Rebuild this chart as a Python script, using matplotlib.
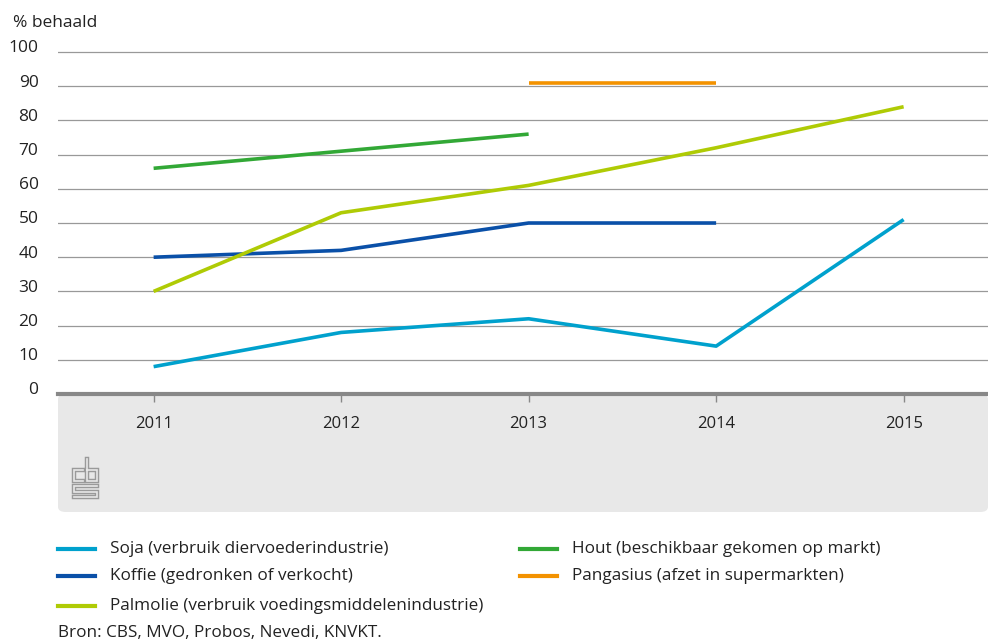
import matplotlib
matplotlib.use("Agg")
import matplotlib.pyplot as plt
from matplotlib.patches import FancyBboxPatch
from matplotlib.transforms import ScaledTranslation
from matplotlib.lines import Line2D

plt.rcParams["font.family"] = ["Open Sans", "DejaVu Sans"]

# ---- data
years = [2011, 2012, 2013, 2014, 2015]
soja = [8, 18, 22, 14, 51]
koffie = [40, 42, 50, 50]
palmolie = [30, 53, 61, 72, 84]
hout = [66, 71, 76]
pangasius = [91, 91]
pangasius_years = [2013, 2014]

labels = ["Soja (verbruik diervoederindustrie)",
          "Koffie (gedronken of verkocht)",
          "Palmolie (verbruik voedingsmiddelenindustrie)",
          "Hout (beschikbaar gekomen op markt)",
          "Pangasius (afzet in supermarkten)"]
colors = ["#00a1cd", "#0a50a8", "#afcb05", "#32a836", "#f39200"]

W, H = 988, 642
BAND = "#e8e8e8"
TXT = "#222222"
fig = plt.figure(figsize=(W / 100, H / 100), dpi=100)

# gray band under the x axis
band = FancyBboxPatch((58 / W, 1 - 512 / H), (W - 58) / W, (512 - 394) / H,
                      boxstyle="round,pad=0,rounding_size=0.008",
                      transform=fig.transFigure, facecolor=BAND,
                      edgecolor="none", zorder=-5)
fig.patches.append(band)

ax = fig.add_axes([58 / W, 1 - 394 / H, (W - 58) / W, (394 - 48.6) / H])
ax.set_facecolor("none")
ax.set_zorder(2)

lw = 2.6
ax.plot(years, soja, color=colors[0], lw=lw, solid_capstyle="butt")
ax.plot(years[:4], koffie, color=colors[1], lw=lw, solid_capstyle="butt")
ax.plot(years, palmolie, color=colors[2], lw=lw, solid_capstyle="butt")
ax.plot(years[:3], hout, color=colors[3], lw=lw, solid_capstyle="butt")
ax.plot(pangasius_years, pangasius, color=colors[4], lw=lw, solid_capstyle="butt")

ax.set_xlim(2010.49, 2015.45)
ax.set_ylim(0, 101)
ax.set_yticks(range(0, 101, 10))
ax.set_xticks(years)
ax.grid(axis="y", color="#999999", lw=0.9)
ax.set_axisbelow(True)
for s in ["top", "right", "left"]:
    ax.spines[s].set_visible(False)
ax.spines["bottom"].set_color("#888888")
ax.spines["bottom"].set_linewidth(3)
ax.tick_params(axis="y", length=0, pad=14, labelsize=12.5, labelcolor=TXT)
ax.tick_params(axis="x", length=6, width=1, color="#888888", pad=10,
               labelsize=12, labelcolor=TXT)
for lab in ax.get_yticklabels():
    lab.set_transform(lab.get_transform() + ScaledTranslation(0, 4 / 72, fig.dpi_scale_trans))

fig.text(13 / W, 1 - 23 / H, "% behaald", fontsize=12.5, color=TXT, va="center")

# cbs logo (simple sketch, outlined strokes)
lx, ly = 73, 459
segs = [
    [(10, 11), (1, 11), (1, 22), (10, 22)],
    [(14, 0), (14, 22), (24, 22), (24, 11), (14, 11)],
    [(24, 27), (1, 27), (1, 32.5), (24, 32.5), (24, 38), (1, 38)],
]
for seg in segs:
    xs = [(lx + p[0]) / W for p in seg]
    ys = [1 - (ly + p[1]) / H for p in seg]
    fig.add_artist(Line2D(xs, ys, color="#9a9a9a", lw=3.2, transform=fig.transFigure,
                          solid_joinstyle="miter"))
    fig.add_artist(Line2D(xs, ys, color=BAND, lw=1.2, transform=fig.transFigure,
                          solid_joinstyle="miter"))

# legend
pos = [(58, 549), (58, 576), (58, 606), (520, 549), (520, 576)]
for (x0, y0), lab, c in zip(pos, labels, colors):
    fig.add_artist(Line2D([x0 / W, (x0 + 37) / W], [1 - y0 / H] * 2, color=c,
                          lw=3, transform=fig.transFigure))
    fig.text((x0 + 52) / W, 1 - y0 / H, lab, fontsize=12.3, color=TXT, va="center")

fig.text(58 / W, 1 - 633 / H, "Bron: CBS, MVO, Probos, Nevedi, KNVKT.",
         fontsize=12.3, color=TXT, va="center")

fig.savefig("out.png", dpi=100)
